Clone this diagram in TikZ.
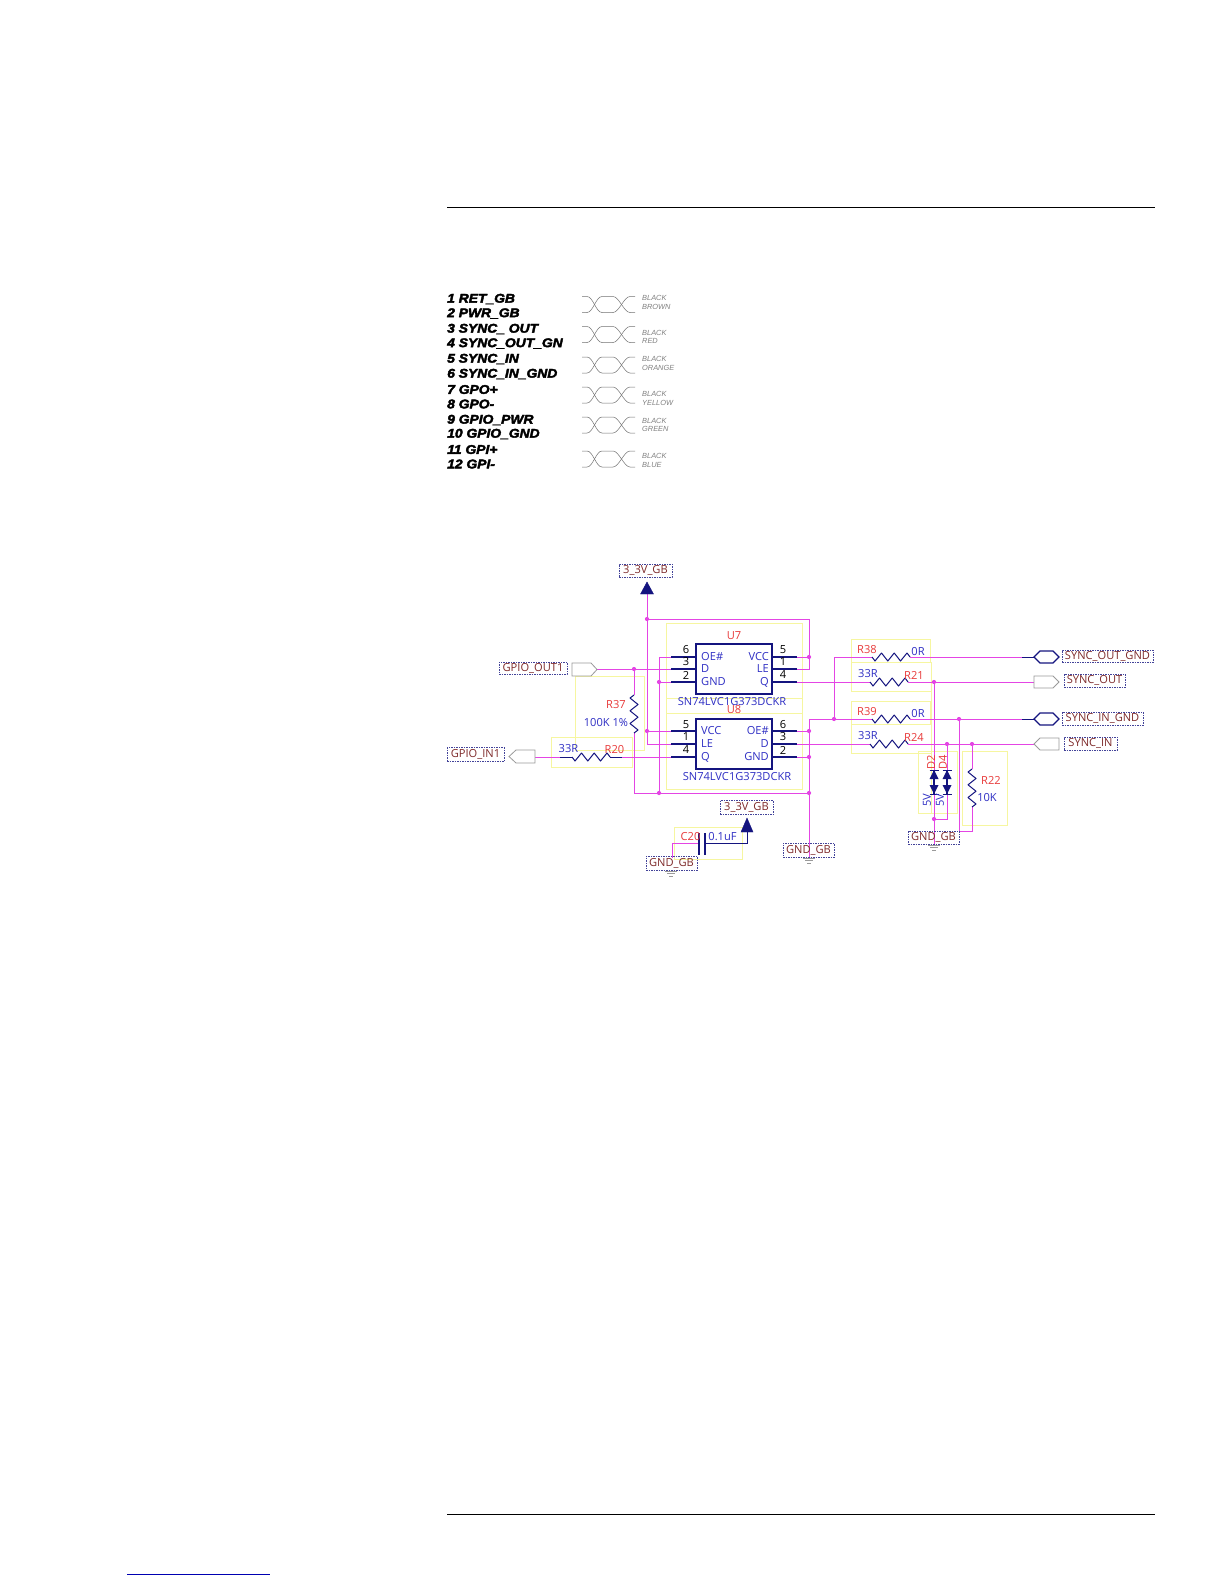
\documentclass[tikz,border=0pt]{standalone}
\usepackage{fontspec}
\setmainfont{Liberation Sans}
\newfontfamily\heavyfont{Liberation Sans}[BoldItalicFeatures={FakeBold=3,FakeStretch=1.1}]
\newfontfamily\schfont{Open Sans}
\definecolor{wire}{HTML}{E445E4}
\definecolor{navyc}{HTML}{14147F}
\definecolor{yell}{HTML}{F6F6A0}
\definecolor{refc}{HTML}{E83A3A}
\definecolor{valc}{HTML}{2F2FC4}
\definecolor{netc}{HTML}{7E2A2A}
\definecolor{portc}{HTML}{9A9A9A}
\tikzset{
  x=1pt,y=-1pt,
  rule/.style={line width=1pt,black},
  wirepath/.style={wire,line width=.8pt},
  navypath/.style={navyc,line width=1pt},
  pinpath/.style={navyc,line width=1.5pt},
  chipbox/.style={draw=navyc,line width=1.9pt,inner sep=0pt,minimum width=76,minimum height=50},
  yellbox/.style={draw=yell,line width=.8pt},
  dotc/.style={circle,fill=wire,inner sep=0pt,minimum size=4.2},
  sch/.style={font=\schfont\fontsize{11.1}{12}\selectfont,inner sep=0pt},
  refl/.style={sch,text=refc},
  vall/.style={sch,text=valc},
  pinl/.style={sch,text=black},
  netl/.style={sch,text=netc,draw=navyc!80,line width=.4pt,dash pattern=on 1.5pt off 1pt},
  portg/.style={draw=portc,line width=.8pt,fill=white},
  portn/.style={draw=navyc,line width=1.3pt,fill=white},
  arrw/.style={fill=navyc,draw=navyc,line width=.4pt},
  gndp/.style={draw=portc,line width=.7pt},
  wl/.style={font=\itshape\fontsize{7.4}{8}\selectfont,text=black!50,anchor=west,inner sep=0pt},
  pl/.style={font=\heavyfont\bfseries\itshape\fontsize{12.6}{13}\selectfont,anchor=west,inner sep=0pt,text=black},
  xw/.style={draw=black!55,line width=.5pt},
  pics/twist/.style={code={
    \draw[xw] (-27,-8) -- (-22,-8) .. controls (-16,-8) and (-13,8) .. (-7,8) -- (4,8) .. controls (10,8) and (15,-8) .. (21,-8) -- (26,-8);
    \draw[xw] (-27,8) -- (-22,8) .. controls (-16,8) and (-13,-8) .. (-7,-8) -- (4,-8) .. controls (10,-8) and (15,8) .. (21,8) -- (26,8);
  }},
  pics/zzh/.style={code={
    \draw[navypath,line join=round] (-19,0) -- (-16,4) -- (-9.5,-4) -- (-3.2,4) -- (3.2,-4) -- (9.5,4) -- (16,-4) -- (19,0);
  }},
  pics/zzv/.style={code={
    \draw[navypath,line join=round] (0,-19) -- (-4,-16) -- (4,-9.5) -- (-4,-3.2) -- (4,3.2) -- (-4,9.5) -- (4,16) -- (0,19);
  }},
  pics/tvs/.style={code={
    \fill[navyc] (0,-12) -- (4.5,-3) -- (-4.5,-3) -- cycle;
    \fill[navyc] (0,12) -- (4.5,3) -- (-4.5,3) -- cycle;
    \draw[navyc,line width=1.6pt] (0,-12) -- (0,12);
    \draw[navyc,line width=1pt] (-4.5,-12) -- (4.5,-12) (-4.5,12) -- (4.5,12);
  }},
  pics/earth/.style={code={
    \draw[gndp] (-6,0) -- (6,0) (-4,2.5) -- (4,2.5) (-2,5) -- (2,5);
  }},
}
\begin{document}
\begin{tikzpicture}
\useasboundingbox[fill=white] (0,0) rectangle (1224,1584);
% page rules
\coordinate (tl) at (447,207); \coordinate (tr) at (1155,207);
\coordinate (bl) at (447,1514); \coordinate (br) at (1155,1514);
\coordinate (ul) at (127,1574); \coordinate (ur) at (270,1574);
\draw[rule] (tl) -- (tr);
\draw[rule] (bl) -- (br);
\draw[blue!70!black,line width=.8pt] (ul) -- (ur);
% wire list
\node[pl] (p1) at (447,299) {1 RET\_GB};
\node[pl] (p2) at (447,313.5) {2 PWR\_GB};
\node[pl] (p3) at (447,329) {3 SYNC\_ OUT};
\node[pl] (p4) at (447,343.5) {4 SYNC\_OUT\_GN};
\node[pl] (p5) at (447,359) {5 SYNC\_IN};
\node[pl] (p6) at (447,374) {6 SYNC\_IN\_GND};
\node[pl] (p7) at (447,389.5) {7 GPO+};
\node[pl] (p8) at (447,404) {8 GPO-};
\node[pl] (p9) at (447,420) {9 GPIO\_PWR};
\node[pl] (p10) at (447,434) {10 GPIO\_GND};
\node[pl] (p11) at (447,449.5) {11 GPI+};
\node[pl] (p12) at (447,464) {12 GPI-};
\pic at (609,304.5) {twist};
\pic at (609,334.5) {twist};
\pic at (609,365) {twist};
\pic at (609,395) {twist};
\pic at (609,425) {twist};
\pic at (609,459) {twist};
\node[wl] (w1a) at (642,298) {BLACK};
\node[wl] (w1b) at (642,306.5) {BROWN};
\node[wl] (w2a) at (642,332.5) {BLACK};
\node[wl] (w2b) at (642,341) {RED};
\node[wl] (w3a) at (642,359) {BLACK};
\node[wl] (w3b) at (642,367.5) {ORANGE};
\node[wl] (w4a) at (642,394) {BLACK};
\node[wl] (w4b) at (642,402.5) {YELLOW};
\node[wl] (w5a) at (642,420.5) {BLACK};
\node[wl] (w5b) at (642,429) {GREEN};
\node[wl] (w6a) at (642,455.5) {BLACK};
\node[wl] (w6b) at (642,464.5) {BLUE};
% yellow outlines
\draw[yellbox] (666,623) rectangle (802,713);
\draw[yellbox] (666,698) -- (802,698);
\draw[yellbox] (666,713) rectangle (802,789);
\draw[yellbox] (575,676) rectangle (644,750);
\draw[yellbox] (551,737) rectangle (632,767);
\draw[yellbox] (851,639) rectangle (930,662);
\draw[yellbox] (851,662) rectangle (931,691);
\draw[yellbox] (851,701) rectangle (930,724);
\draw[yellbox] (851,724) rectangle (931,753);
\draw[yellbox] (918,751) rectangle (957,813);
\draw[yellbox] (931,662) -- (931,813);
\draw[yellbox] (962,751) rectangle (1007,825);
\draw[yellbox] (674,827) rectangle (742,859);
% chips
\node[chipbox] (u7) at (734,669) {};
\node[chipbox] (u8) at (734,744) {};
% pin stubs
\coordinate (a6) at (671,657); \coordinate (a3) at (671,669); \coordinate (a2) at (671,682);
\coordinate (a5) at (797,657); \coordinate (a1) at (797,669); \coordinate (a4) at (797,682);
\coordinate (b5) at (671,731); \coordinate (b1) at (671,744); \coordinate (b4) at (671,757);
\coordinate (b6) at (797,731); \coordinate (b3) at (797,744); \coordinate (b2) at (797,757);
\draw[pinpath] (a6) -- (a6-|u7.west) (a3) -- (a3-|u7.west) (a2) -- (a2-|u7.west);
\draw[pinpath] (a5) -- (a5-|u7.east) (a1) -- (a1-|u7.east) (a4) -- (a4-|u7.east);
\draw[pinpath] (b5) -- (b5-|u8.west) (b1) -- (b1-|u8.west) (b4) -- (b4-|u8.west);
\draw[pinpath] (b6) -- (b6-|u8.east) (b3) -- (b3-|u8.east) (b2) -- (b2-|u8.east);
% junctions and corners
\coordinate (arr1) at (647,594);
\coordinate (jv1) at (647,619);
\coordinate (jv2) at (647,731);
\coordinate (cv1) at (647,744);
\coordinate (cv2) at (809,619);
\coordinate (cv3) at (809,669);
\coordinate (jv3) at (809,657);
\coordinate (jr37) at (634,669);
\coordinate (r37t) at (634,695);
\coordinate (r37b) at (634,733);
\coordinate (cr37) at (634,793);
\coordinate (jg1) at (659,793);
\coordinate (jg2) at (659,682);
\coordinate (cg1) at (659,657);
\coordinate (jg3) at (809,793);
\coordinate (jg4) at (809,731);
\coordinate (jg5) at (809,757);
\coordinate (cg2) at (809,719);
\coordinate (gnd2) at (809,858);
\coordinate (j38) at (834,719);
\coordinate (c38) at (834,657);
\coordinate (j959) at (959,719);
\coordinate (c959) at (959,831);
\coordinate (c972) at (972,831);
\coordinate (j972) at (972,744);
\coordinate (r22t) at (972,769);
\coordinate (r22b) at (972,807);
\coordinate (j947) at (947,744);
\coordinate (c947) at (947,819);
\coordinate (j934b) at (934,819);
\coordinate (j934t) at (934,682);
\coordinate (gnd3) at (934,845);
% resistor ends
\coordinate (r38l) at (872,657); \coordinate (r38r) at (910,657);
\coordinate (r21l) at (870,682); \coordinate (r21r) at (908,682);
\coordinate (r39l) at (872,719); \coordinate (r39r) at (910,719);
\coordinate (r24l) at (870,744); \coordinate (r24r) at (908,744);
\coordinate (r20a) at (560,757); \coordinate (r20l) at (572,757);
\coordinate (r20r) at (610,757); \coordinate (r20b) at (622,757);
% ports
\coordinate (pOutE) at (597,669);
\coordinate (pInE) at (535,757);
\coordinate (pSOG) at (1034,657);
\coordinate (pSO) at (1034,682);
\coordinate (pSIG) at (1034,719);
\coordinate (pSI) at (1034,744);
\coordinate (nSOG) at (1022,657);
\coordinate (nSIG) at (1022,719);
% wires
\draw[wirepath] (arr1) -- (cv1) -- (b1);
\draw[wirepath] (jv1) -- (cv2) -- (cv3) -- (a1);
\draw[wirepath] (jv2) -- (b5);
\draw[wirepath] (a5) -- (jv3);
\draw[wirepath] (pOutE) -- (a3);
\draw[wirepath] (jr37) -- (r37t);
\draw[wirepath] (r37b) -- (cr37) -- (jg3);
\draw[wirepath] (a6) -- (cg1) -- (jg1);
\draw[wirepath] (a2) -- (jg2);
\draw[wirepath] (pInE) -- (r20a);
\draw[navypath] (r20a) -- (r20l);
\draw[navypath] (r20r) -- (r20b);
\draw[wirepath] (r20b) -- (b4);
\draw[wirepath] (a4) -- (r21l);
\draw[wirepath] (r21r) -- (pSO);
\draw[wirepath] (b3) -- (r24l);
\draw[wirepath] (r24r) -- (pSI);
\draw[wirepath] (b6) -- (jg4);
\draw[wirepath] (b2) -- (jg5);
\draw[wirepath] (gnd2) -- (cg2) -- (r39l);
\draw[wirepath] (r39r) -- (nSIG);
\draw[wirepath] (j38) -- (c38) -- (r38l);
\draw[wirepath] (r38r) -- (nSOG);
\draw[wirepath] (j959) -- (c959) -- (c972) -- (r22b);
\draw[wirepath] (r22t) -- (j972);
\draw[wirepath] (j947) -- (c947) -- (j934b);
\draw[wirepath] (j934t) -- (gnd3);
\draw[navypath] (nSOG) -- (pSOG);
\draw[navypath] (nSIG) -- (pSIG);
% resistors and diodes
\pic at (891,657) {zzh};
\pic at (889,682) {zzh};
\pic at (891,719) {zzh};
\pic at (889,744) {zzh};
\pic at (591,757) {zzh};
\pic at (634,714) {zzv};
\pic at (972,788) {zzv};
\pic at (934,782) {tvs};
\pic at (947,782) {tvs};
% dots
\foreach \d in {jv1,jv2,jv3,jr37,jg1,jg2,jg3,jg4,jg5,j38,j959,j972,j947,j934b,j934t}{\node[dotc] at (\d) {};}
% capacitor
\coordinate (c1a) at (699,843); \coordinate (c1b) at (705,843);
\coordinate (c1c) at (747,843); \coordinate (c1d) at (672,843);
\coordinate (c1e) at (672,858); \coordinate (arr2) at (747,832);
\draw[wirepath] (c1a) -- (c1d) -- (c1e);
\draw[navypath] (c1b) -- (c1c) -- (arr2);
\draw[navyc,line width=1.7pt] (699,833) -- (699,855) (705,833) -- (705,855);
% supply arrows
\draw[arrw] (647,582) -- (653.5,594) -- (640.5,594) -- cycle;
\draw[arrw] (747,818) -- (753,832) -- (741,832) -- cycle;
% ports
\draw[portg] (572,663) -- (591,663) -- (597,669.5) -- (591,676) -- (572,676) -- cycle;
\draw[portg] (509,756.5) -- (516,750) -- (535,750) -- (535,763) -- (516,763) -- cycle;
\draw[portn] (1034,657) -- (1040,651) -- (1053,651) -- (1059,657) -- (1053,663) -- (1040,663) -- cycle;
\draw[portg] (1034,676) -- (1053,676) -- (1059,682) -- (1053,688) -- (1034,688) -- cycle;
\draw[portn] (1034,719) -- (1040,713) -- (1053,713) -- (1059,719) -- (1053,725) -- (1040,725) -- cycle;
\draw[portg] (1034,744) -- (1040,738) -- (1059,738) -- (1059,750) -- (1040,750) -- cycle;
% grounds
\pic at (671,871) {earth};
\pic at (809,858) {earth};
\pic at (934,845) {earth};
% net labels
\node[netl,minimum width=53,minimum height=13] (n1) at (645.5,570.5) {3\_3V\_GB};
\node[netl,minimum width=53,minimum height=14] (n2) at (746.5,807.5) {3\_3V\_GB};
\node[netl,minimum width=68,minimum height=12] (n3) at (533,668) {GPIO\_OUT1};
\node[netl,minimum width=57,minimum height=14] (n4) at (475.5,754.5) {GPIO\_IN1};
\node[netl,minimum width=51,minimum height=14] (n5) at (671.5,863) {GND\_GB};
\node[netl,minimum width=51,minimum height=14] (n6) at (808.5,850) {GND\_GB};
\node[netl,minimum width=51,minimum height=13] (n7) at (933.5,837.5) {GND\_GB};
\node[netl,minimum width=91,minimum height=12] (n8) at (1107.5,656) {SYNC\_OUT\_GND};
\node[netl,minimum width=61,minimum height=13] (n9) at (1094.5,680.5) {SYNC\_OUT};
\node[netl,minimum width=81,minimum height=13] (n10) at (1102.5,718.5) {SYNC\_IN\_GND};
\node[netl,minimum width=53,minimum height=13] (n11) at (1090.5,743.5) {SYNC\_IN};
% chip text
\node[refl] (tU7) at (734,636) {U7};
\node[refl] (tU8) at (734,710) {U8};
\node[vall] (tP7) at (732,702) {SN74LVC1G373DCKR};
\node[vall] (tP8) at (737,777) {SN74LVC1G373DCKR};
\node[vall,anchor=west] (i1) at (701,657) {OE\#};
\node[vall,anchor=west] (i2) at (701,669) {D};
\node[vall,anchor=west] (i3) at (701,682) {GND};
\node[vall,anchor=east] (i4) at (769,657) {VCC};
\node[vall,anchor=east] (i5) at (769,669) {LE};
\node[vall,anchor=east] (i6) at (769,682) {Q};
\node[vall,anchor=west] (i7) at (701,731) {VCC};
\node[vall,anchor=west] (i8) at (701,744) {LE};
\node[vall,anchor=west] (i9) at (701,757) {Q};
\node[vall,anchor=east] (i10) at (769,731) {OE\#};
\node[vall,anchor=east] (i11) at (769,744) {D};
\node[vall,anchor=east] (i12) at (769,757) {GND};
\node[pinl] (q1) at (686,650) {6};
\node[pinl] (q2) at (686,662) {3};
\node[pinl] (q3) at (686,675) {2};
\node[pinl] (q4) at (783,650) {5};
\node[pinl] (q5) at (783,662) {1};
\node[pinl] (q6) at (783,675) {4};
\node[pinl] (q7) at (686,725) {5};
\node[pinl] (q8) at (686,737) {1};
\node[pinl] (q9) at (686,750) {4};
\node[pinl] (q10) at (783,725) {6};
\node[pinl] (q11) at (783,737) {3};
\node[pinl] (q12) at (783,750) {2};
% component text
\node[refl] (r37) at (616,705) {R37};
\node[vall] (v37) at (606,723) {100K 1\%};
\node[vall] (v20) at (568.5,749) {33R};
\node[refl] (r20) at (614.5,750) {R20};
\node[refl] (r38) at (867,650) {R38};
\node[vall] (v38) at (918,652) {0R};
\node[vall] (v21) at (868,674) {33R};
\node[refl] (r21) at (914,675) {R21};
\node[refl] (r39) at (867,712) {R39};
\node[vall] (v39) at (918,714) {0R};
\node[vall] (v24) at (868,736) {33R};
\node[refl] (r24) at (914,737) {R24};
\node[refl] (r22) at (991,780) {R22};
\node[vall] (v22) at (987,798) {10K};
\node[refl,rotate=90] (d2) at (931,762) {D2};
\node[refl,rotate=90] (d4) at (943,762) {D4};
\node[vall,rotate=90] (v2) at (927,800) {5V};
\node[vall,rotate=90] (v4) at (940,800) {5V};
\node[refl] (c20) at (690.5,837) {C20};
\node[vall] (v20c) at (722.5,837) {0.1uF};
\end{tikzpicture}
\end{document}
